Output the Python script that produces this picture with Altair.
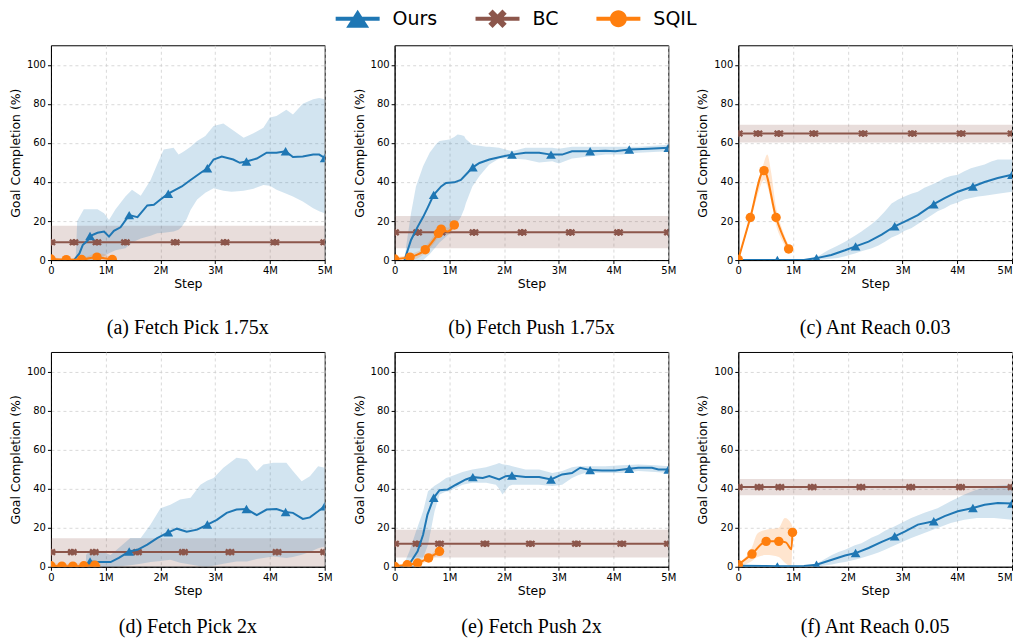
import altair as alt
import pandas as pd

SERIES = ["Ours", "BC", "SQIL"]
COLORS = ["#1f77b4", "#8c564b", "#ff7f0e"]
CAPTIONS = ["(a) Fetch Pick 1.75x", "(b) Fetch Push 1.75x", "(c) Ant Reach 0.03",
            "(d) Fetch Pick 2x", "(e) Fetch Push 2x", "(f) Ant Reach 0.05"]
X_TICKS = [0, 1, 2, 3, 4, 5]
Y_TICKS = [0, 20, 40, 60, 80, 100]
OURS_MK_X = [0.714, 1.429, 2.143, 2.857, 3.571, 4.286, 5.0]
BC_X = [0, 5]

# ---------------- (a) Fetch Pick 1.75x ----------------
a_ours_x = [0.42, 0.52, 0.58, 0.67, 0.714, 0.85, 0.97, 1.06, 1.15, 1.27, 1.429, 1.58, 1.76, 1.88, 2.0, 2.143, 2.27, 2.39,
            2.55, 2.73, 2.857, 2.97, 3.12, 3.33, 3.45, 3.571, 3.76, 3.94, 4.12, 4.286, 4.42, 4.6, 4.79, 4.9, 5.0]
a_ours_y = [0, 3.4, 7.7, 10, 12.3, 14, 14.6, 12, 15, 16.8, 23, 22, 28, 28.3, 31, 34, 36, 37.7,
            41, 44.6, 47, 51.5, 53, 51.5, 49.8, 50.5, 52, 55, 55, 55.7, 52.8, 53, 54, 54, 52.3]
a_mk_y = [12.3, 23, 34, 47, 50.5, 55.7, 52.3]
a_band_x = [0.45, 0.48, 0.6, 0.85, 0.97, 1.06, 1.18, 1.36, 1.48, 1.64, 1.82, 1.94, 2.06, 2.24, 2.33, 2.39, 2.48,
            2.55, 2.67, 2.82, 2.97, 3.15, 3.3, 3.52, 3.7, 3.88, 4.0, 4.12, 4.3, 4.42, 4.6, 4.79, 4.9, 5.0]
a_band_lo = [0, 0, 0, 0, 2, 3.5, 5, 6, 9, 11, 12.5, 13.7, 14, 14.6, 15.5, 17, 21,
             25.7, 31, 34.5, 36.8, 35.5, 35, 35.5, 36.5, 38.5, 38, 36, 34, 32.6, 30, 26.5, 25, 24]
a_band_hi = [0, 20, 26, 26, 24, 20.5, 26, 32.6, 36, 33, 41, 49, 56.6, 57.5, 54, 55, 56.6,
             58, 61, 63.5, 68.6, 70, 67, 62.6, 65, 67.8, 73, 73.8, 77, 74.6, 80, 82.3, 83, 82.3]
a_bc, a_bc_lo, a_bc_hi = 9.1, 0, 17.6
a_bc_mk = [0, 0.42, 0.84, 1.36, 2.27, 3.18, 4.09, 5.0]
a_sq_x = [0, 0.28, 0.56, 0.84, 0.95, 1.12, 1.2]
a_sq_y = [0.5, 0.2, 0.3, 1.5, 1.0, 0.3, 0.2]
a_sq_lo = [0, 0, 0, 0, 0, 0, 0]
a_sq_hi = [1.5, 1, 1, 3.5, 3.2, 1, 0.5]
a_sq_mk_x = [0, 0.28, 0.56, 0.84, 1.12]
a_sq_mk_y = [0.5, 0.2, 0.3, 1.5, 0.3]

# ---------------- (b) Fetch Push 1.75x ----------------
b_ours_x = [0.18, 0.3, 0.42, 0.52, 0.6, 0.714, 0.85, 0.94, 1.09, 1.21, 1.33, 1.429, 1.55, 1.73, 1.97, 2.143, 2.39,
            2.64, 2.857, 3.06, 3.24, 3.571, 3.85, 4.03, 4.286, 4.64, 5.0]
b_ours_y = [0, 10.3, 17, 22, 26.6, 33.4, 37.7, 39.5, 39.8, 41, 44.6, 47.5, 49.7, 51.5, 53, 54, 55,
            55, 54, 54, 55.7, 55.7, 56, 55.7, 56.6, 57, 57.5]
b_mk_y = [33.4, 47.5, 54, 54, 55.7, 56.6, 57.5]
b_band_x = [0.18, 0.21, 0.3, 0.39, 0.52, 0.64, 0.76, 0.82, 1.0, 1.09, 1.15, 1.21, 1.27, 1.3, 1.42, 1.55, 1.67,
            1.73, 1.91, 2.15, 2.39, 2.64, 2.88, 3.0, 3.24, 3.55, 3.85, 4.15, 4.45, 5.0]
b_band_lo = [0, 0, 0, 0, 0, 3, 7, 9, 13.5, 17, 19.5, 22, 26, 29, 37.7, 43, 47,
             49, 52, 52, 51.5, 50, 50.6, 49.4, 52, 53, 54, 54, 55, 55.7]
b_band_hi = [0, 7, 24, 37.7, 48, 55, 59.5, 61, 61.7, 63, 64.3, 64, 63.5, 62, 59, 58.5, 58,
             58, 57.5, 55.7, 57.5, 57.5, 57.5, 57, 58, 58, 58, 58, 58, 59]
b_bc, b_bc_lo, b_bc_hi = 14.2, 6, 22.6
b_bc_mk = [0, 0.42, 0.85, 1.45, 2.33, 3.21, 4.09, 5.0]
b_sq_x = [0, 0.28, 0.56, 0.8, 0.85, 0.97, 1.09]
b_sq_y = [0.5, 1.5, 5.3, 13.7, 15.8, 14.6, 18]
b_sq_lo = [0, 0, 3.5, 11.5, 13.5, 13, 16.5]
b_sq_hi = [1.5, 3, 7, 16, 18, 16.5, 19.5]
b_sq_mk_x = [0, 0.28, 0.56, 0.8, 0.85, 1.09]
b_sq_mk_y = [0.5, 1.5, 5.3, 13.7, 15.8, 18]

# ---------------- (c) Ant Reach 0.03 ----------------
c_ours_x = [0, 1.2, 1.429, 1.7, 1.95, 2.143, 2.38, 2.62, 2.857, 3.04, 3.28, 3.571, 3.77, 4.01, 4.286, 4.5, 4.74, 5.0]
c_ours_y = [0, 0, 1, 2.6, 5, 7, 9.4, 13, 17.3, 19.7, 23, 28.6, 31.7, 35, 37.7, 40, 42, 43.7]
c_mk_y = [0, 1, 7, 17.3, 28.6, 37.7, 43.7]
c_band_x = [1.2, 1.43, 1.64, 1.82, 1.95, 2.13, 2.25, 2.44, 2.56, 2.68, 2.8, 2.92, 3.04, 3.16, 3.28, 3.4, 3.53,
            3.64, 3.77, 3.88, 4.01, 4.13, 4.25, 4.38, 4.5, 4.62, 4.74, 5.0]
c_band_lo = [0, 0, 0.5, 1, 2, 3.4, 4.5, 6, 7.5, 9.4, 11.5, 13, 15, 16.3, 18.5, 20.6, 23,
             25, 26.5, 28.3, 29.5, 31, 31.8, 32.6, 33, 33.4, 34, 35]
c_band_hi = [0, 1.5, 5, 7.5, 9.4, 12.5, 14.6, 18.5, 21.4, 25, 29, 31, 32.6, 34, 35, 37, 38.6,
             40, 42, 43, 43.7, 45.5, 47, 48, 49, 50.5, 51.5, 51.5]
c_bc, c_bc_lo, c_bc_hi = 64.8, 60.2, 69.3
c_bc_mk = [0, 0.36, 0.74, 1.38, 2.28, 3.18, 4.07, 5.0]
c_sq_x = [0, 0.22, 0.47, 0.69, 0.92]
c_sq_y = [0.3, 21.8, 45.8, 21.8, 5.7]
c_sqb_x = [0, 0.22, 0.35, 0.47, 0.53, 0.6, 0.69, 0.8, 0.92]
c_sq_lo = [0, 20, 33, 41, 38, 30, 18, 10, 4.5]
c_sq_hi = [0.6, 23, 38, 50, 54, 45, 27, 16, 7.5]

# ---------------- (d) Fetch Pick 2x ----------------
d_ours_x = [0.714, 0.85, 1.09, 1.24, 1.429, 1.58, 1.76, 1.94, 2.143, 2.3, 2.48, 2.67, 2.857, 3.03, 3.21, 3.39, 3.571,
            3.76, 3.94, 4.12, 4.286, 4.42, 4.6, 4.73, 4.88, 5.0]
d_ours_y = [2.7, 2.4, 2.4, 4.5, 7.8, 8.7, 11.3, 14.7, 17.6, 19.5, 18, 19, 21.6, 24, 27.6, 29.3, 29.6,
            26.4, 29.3, 29.6, 28, 27.6, 24.5, 25.3, 28.4, 31]
d_mk_y = [2.7, 7.8, 17.6, 21.6, 29.6, 28, 31]
d_band_x = [0.64, 0.73, 0.91, 1.09, 1.27, 1.45, 1.64, 1.82, 2.0, 2.18, 2.36, 2.55, 2.73, 2.85, 2.97, 3.15, 3.39,
            3.58, 3.76, 3.88, 4.06, 4.3, 4.42, 4.58, 4.73, 4.88, 5.0]
d_band_lo = [0, 0, 0, 0, 0.3, 0.8, 1.5, 2.5, 3, 3.6, 2, 1.2, 0.3, 0, 0.5, 1.5, 2.7,
             2.7, 4, 4.5, 5.3, 4.5, 5, 6.2, 7.5, 9.5, 10.4]
d_band_hi = [6, 8.7, 7.9, 6, 10.4, 14.7, 14.7, 21.6, 30, 31.8, 34.4, 35.3, 42, 44, 45.5, 50.7, 55.8,
             55, 49, 52.4, 53.3, 53.3, 49, 43.8, 46.4, 51.5, 50.7]
d_bc, d_bc_lo, d_bc_hi = 7.5, 0, 14.6
d_bc_mk = [0, 0.39, 0.79, 1.58, 2.42, 3.27, 4.13, 5.0]
d_sq_x = [0, 0.2, 0.4, 0.6, 0.8, 0.9]
d_sq_y = [0.5, 0.3, 0.3, 0.5, 0.8, 0.5]
d_sq_lo = [0, 0, 0, 0, 0, 0]
d_sq_hi = [2, 1.5, 1.5, 2, 2.5, 1.5]
d_sq_mk_x = [0, 0.2, 0.4, 0.6, 0.8]
d_sq_mk_y = [0.5, 0.3, 0.3, 0.5, 0.8]

# ---------------- (e) Fetch Push 2x ----------------
e_ours_x = [0.09, 0.21, 0.3, 0.42, 0.52, 0.6, 0.714, 0.82, 0.97, 1.12, 1.3, 1.429, 1.61, 1.73, 1.91, 2.03, 2.143,
            2.39, 2.64, 2.857, 3.06, 3.24, 3.39, 3.571, 3.79, 4.03, 4.286, 4.45, 4.7, 4.82, 5.0]
e_ours_y = [0, 0, 2.7, 7.9, 16.4, 26.7, 35.3, 39.2, 39.6, 42, 44.7, 45.9, 45.5, 46.4, 44.7, 46.4, 46.7,
            46, 46, 44.7, 47.3, 48, 50.7, 49.5, 49.3, 49.3, 50.2, 50.7, 50.7, 49.8, 49.8]
e_mk_y = [35.3, 45.9, 46.7, 44.7, 49.5, 50.2, 49.8]
e_band_x = [0.15, 0.27, 0.39, 0.52, 0.61, 0.73, 0.82, 0.94, 1.0, 1.24, 1.42, 1.67, 1.85, 1.91, 1.97, 2.09, 2.15,
            2.39, 2.64, 2.88, 3.06, 3.24, 3.36, 3.48, 3.85, 4.15, 4.45, 4.76, 5.0]
e_band_lo = [0, 0, 0, 4.5, 11.3, 28.4, 37, 38.5, 38.7, 42, 43, 43, 42, 40, 37, 41.3, 42,
             42, 42, 41.3, 42, 45.5, 47, 48, 48, 48, 49, 48.5, 48]
e_band_hi = [0, 7.9, 18, 28.4, 38.7, 41.5, 43, 45.5, 46, 48.5, 49.8, 51, 52.5, 53.2, 52.5, 52, 51.5,
             49.8, 49.8, 48, 49, 51, 51.5, 51.5, 51.5, 52, 52.4, 52, 51.5]
e_bc, e_bc_lo, e_bc_hi = 11.8, 4.8, 19
e_bc_mk = [0, 0.41, 0.82, 1.65, 2.48, 3.32, 4.15, 5.0]
e_sq_x = [0, 0.23, 0.42, 0.62, 0.82]
e_sq_y = [0.2, 1, 1.9, 4.5, 7.9]
e_sq_lo = [0, 0.2, 0.8, 3.2, 6.5]
e_sq_hi = [0.6, 1.8, 3, 5.8, 9.3]

# ---------------- (f) Ant Reach 0.05 ----------------
f_ours_x = [0, 0.5, 0.714, 1.0, 1.2, 1.429, 1.71, 1.95, 2.143, 2.38, 2.62, 2.857, 3.04, 3.28, 3.571, 3.77, 4.01,
            4.286, 4.5, 4.74, 5.0]
f_ours_y = [0.5, 0.4, 0.2, 0.2, 0.4, 1, 3.6, 5.8, 7, 9.6, 12.7, 15.6, 18, 21.6, 23.3, 25.9, 28.4,
            30.1, 31.8, 32.7, 32.4]
f_mk_y = [0.2, 1, 7, 15.6, 23.3, 30.1, 32.4]
f_band_x = [1.3, 1.42, 1.71, 1.83, 1.95, 2.13, 2.25, 2.44, 2.56, 2.68, 2.86, 3.16, 3.4, 3.64, 3.88, 4.13, 4.36,
            4.67, 5.0]
f_band_lo = [0, 0, 1.2, 1.9, 2.5, 3.6, 4.5, 6.2, 7.3, 8.7, 11, 14.7, 17.3, 19.9, 22.4, 24.1, 25, 25, 24.1]
f_band_hi = [0, 1.4, 6, 7.5, 8.7, 11, 12, 15, 16.4, 18.5, 20.7, 25, 27.6, 30, 33.6, 37, 39.6, 41.3, 42]
f_bc, f_bc_lo, f_bc_hi = 40.8, 36.6, 45
f_bc_mk = [0, 0.38, 0.76, 1.35, 2.24, 3.15, 4.06, 5.0]
f_sq_x = [0, 0.25, 0.51, 0.74, 0.87, 0.97, 0.99]
f_sq_y = [1, 6.5, 13, 13, 12.5, 9, 17.6]
f_sqb_x = [0, 0.25, 0.35, 0.51, 0.74, 0.85, 0.97, 0.99]
f_sq_lo = [0, 3, 5, 6, 5, 2, 0, 15]
f_sq_hi = [2, 10, 17, 19, 20, 25, 22, 20]
f_sq_mk_x = [0, 0.25, 0.51, 0.74, 0.99]
f_sq_mk_y = [1, 6.5, 13, 13, 17.6]

PANELS = [
    (a_ours_x, a_ours_y, a_mk_y, a_band_x, a_band_lo, a_band_hi, a_bc, a_bc_lo, a_bc_hi, a_bc_mk,
     a_sq_x, a_sq_y, a_sq_x, a_sq_lo, a_sq_hi, a_sq_mk_x, a_sq_mk_y),
    (b_ours_x, b_ours_y, b_mk_y, b_band_x, b_band_lo, b_band_hi, b_bc, b_bc_lo, b_bc_hi, b_bc_mk,
     b_sq_x, b_sq_y, b_sq_x, b_sq_lo, b_sq_hi, b_sq_mk_x, b_sq_mk_y),
    (c_ours_x, c_ours_y, c_mk_y, c_band_x, c_band_lo, c_band_hi, c_bc, c_bc_lo, c_bc_hi, c_bc_mk,
     c_sq_x, c_sq_y, c_sqb_x, c_sq_lo, c_sq_hi, c_sq_x, c_sq_y),
    (d_ours_x, d_ours_y, d_mk_y, d_band_x, d_band_lo, d_band_hi, d_bc, d_bc_lo, d_bc_hi, d_bc_mk,
     d_sq_x, d_sq_y, d_sq_x, d_sq_lo, d_sq_hi, d_sq_mk_x, d_sq_mk_y),
    (e_ours_x, e_ours_y, e_mk_y, e_band_x, e_band_lo, e_band_hi, e_bc, e_bc_lo, e_bc_hi, e_bc_mk,
     e_sq_x, e_sq_y, e_sq_x, e_sq_lo, e_sq_hi, e_sq_x, e_sq_y),
    (f_ours_x, f_ours_y, f_mk_y, f_band_x, f_band_lo, f_band_hi, f_bc, f_bc_lo, f_bc_hi, f_bc_mk,
     f_sq_x, f_sq_y, f_sqb_x, f_sq_lo, f_sq_hi, f_sq_mk_x, f_sq_mk_y),
]

# ---------------- marker shapes (style) ----------------
X_PTS = [(0.495, -0.919), (0.919, -0.495), (0.424, 0), (0.919, 0.495), (0.495, 0.919), (0, 0.424),
         (-0.495, 0.919), (-0.919, 0.495), (-0.424, 0), (-0.919, -0.495), (-0.495, -0.919), (0, -0.424)]


def poly(pts, dx=0.0, k=1.0):
    return "M" + "L".join(f"{x * k + dx:.3f},{y * k:.3f}" for x, y in pts) + "Z"


def seg(x0, x1, h=0.2):
    return f"M{x0},{-h}L{x1},{-h}L{x1},{h}L{x0},{h}Z"


BC_SHAPE = poly(X_PTS, -0.34) + poly(X_PTS, 0.34)
LEG_OURS = seg(-2.2, -0.4) + seg(0.4, 2.2) + "M0,-0.9L1.15,0.9L-1.15,0.9Z"
LEG_BC = seg(-2.2, -0.3) + seg(0.3, 2.2) + poly(X_PTS, 0, 1.0)
LEG_SQIL = seg(-2.2, -0.3) + seg(0.3, 2.2) + "M0.85,0A0.85,0.85 0 1 1 -0.85,0A0.85,0.85 0 1 1 0.85,0Z"

XSC = alt.Scale(domain=[0, 5], nice=False, zero=False)
YSC = alt.Scale(domain=[0, 110], nice=False, zero=False)
YAX = alt.Axis(values=Y_TICKS, title="Goal Completion (%)", titlePadding=4)


def x_axis(last_col):
    kw = {}
    if last_col:
        kw["labelAlign"] = {"condition": {"test": "datum.value == 5", "value": "right"}, "value": "center"}
    return alt.Axis(values=X_TICKS, title="Step",
                    labelExpr="datum.value == 0 ? '0' : datum.value + 'M'", titlePadding=2, **kw)


def panel(i):
    (ox, oy, mky, bx, blo, bhi, bc, bclo, bchi, bcmk, sx, sy, sbx, slo, shi, smx, smy) = PANELS[i]
    xax = x_axis(i % 3 == 2)

    def X():
        return alt.X("x:Q", scale=XSC, axis=xax)

    def Y(field="y"):
        return alt.Y(f"{field}:Q", scale=YSC, axis=YAX)

    ours = pd.DataFrame({"x": ox, "y": oy})
    ours_mk = pd.DataFrame({"x": OURS_MK_X, "y": mky})
    band = pd.DataFrame({"x": bx, "lo": blo, "hi": bhi})
    bcl = pd.DataFrame({"x": BC_X, "y": [bc, bc], "lo": [bclo, bclo], "hi": [bchi, bchi]})
    bcm = pd.DataFrame({"x": bcmk, "y": [bc] * len(bcmk)})
    sq = pd.DataFrame({"x": sx, "y": sy})
    sqb = pd.DataFrame({"x": sbx, "lo": slo, "hi": shi})
    sqm = pd.DataFrame({"x": smx, "y": smy})

    layers = [
        alt.Chart(bcl).mark_area(color=COLORS[1], opacity=0.2, clip=True).encode(
            x=X(), y=Y("lo"), y2="hi:Q"),
        alt.Chart(band).mark_area(color=COLORS[0], opacity=0.2, clip=True).encode(
            x=X(), y=Y("lo"), y2="hi:Q"),
        alt.Chart(sqb).mark_area(color=COLORS[2], opacity=0.2, clip=True, interpolate="monotone").encode(
            x=X(), y=Y("lo"), y2="hi:Q"),
        alt.Chart(bcl).mark_line(color=COLORS[1], strokeWidth=2, clip=True).encode(x=X(), y=Y()),
        alt.Chart(bcm).mark_point(shape=BC_SHAPE, filled=True, size=60, opacity=1, color=COLORS[1],
                                  clip=True).encode(x=X(), y=Y()),
        alt.Chart(ours).mark_line(color=COLORS[0], strokeWidth=2, clip=True).encode(x=X(), y=Y()),
        alt.Chart(ours_mk).mark_point(shape="triangle-up", filled=True, size=95, opacity=1,
                                      color=COLORS[0], clip=True).encode(x=X(), y=Y()),
        alt.Chart(sq).mark_line(color=COLORS[2], strokeWidth=2, clip=True,
                                interpolate="monotone").encode(x=X(), y=Y()),
        alt.Chart(sqm).mark_point(shape="circle", filled=True, size=90, opacity=1, color=COLORS[2],
                                  clip=True).encode(x=X(), y=Y()),
    ]
    if i == 0:
        leg = alt.Legend(orient="none", legendX=297, legendY=-36.5, direction="horizontal", title=None,
                         symbolSize=400, labelFont="DejaVu Sans", labelFontSize=19, labelColor="black",
                         labelOffset=25, columnPadding=38, padding=0, symbolStrokeWidth=0,
                         symbolOpacity=1)
        leg_df = pd.DataFrame({"x": [-1] * 3, "y": [50] * 3, "s": SERIES})
        layers.append(
            alt.Chart(leg_df).mark_point(filled=True, opacity=1, clip=True).encode(
                x=X(), y=Y(),
                color=alt.Color("s:N", scale=alt.Scale(domain=SERIES, range=COLORS), legend=leg),
                shape=alt.Shape("s:N", scale=alt.Scale(domain=SERIES, range=[LEG_OURS, LEG_BC, LEG_SQIL]),
                                legend=leg),
            )
        )
    return alt.layer(*layers).properties(
        width=274, height=215,
        title=alt.TitleParams(text=CAPTIONS[i], orient="bottom", font="Liberation Serif", fontSize=20,
                              fontWeight="normal", color="black", offset=28 if i < 3 else 20,
                              anchor="middle"),
    )


chart = alt.concat(*[panel(i) for i in range(6)], columns=3,
                   spacing={"row": 92, "column": 70}, bounds="flush").properties(
    padding=0, background="white"
).configure_view(
    stroke="black", strokeWidth=1
).configure_axis(
    grid=True, gridColor="#cfcfcf", gridDash=[3, 3], gridWidth=0.8,
    domainColor="black", domainWidth=1, tickColor="black", tickSize=3.5, tickWidth=1,
    labelFont="DejaVu Sans", labelFontSize=10, labelColor="black", labelPadding=2, labelFlush=False,
    titleFont="DejaVu Sans", titleFontSize=12.5, titleFontWeight="normal", titleColor="black",
)

chart.save("out.html", embed_options={"renderer": "svg", "actions": False})
